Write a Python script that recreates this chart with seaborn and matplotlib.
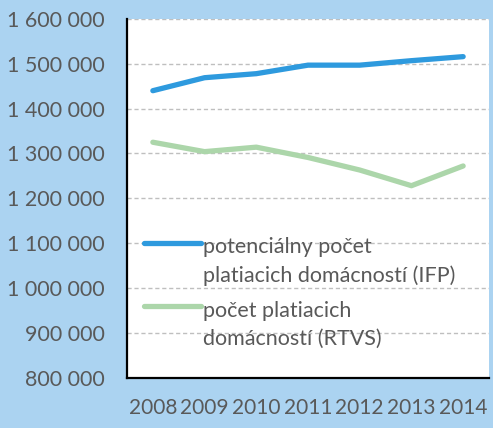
import pandas as pd
import numpy as np
import matplotlib
matplotlib.use('Agg')
import matplotlib.pyplot as plt
import seaborn as sns

# --- data ---
years = ['2008', '2009', '2010', '2011', '2012', '2013', '2014']
ifp = [1440000, 1469000, 1478000, 1497000, 1497000, 1507000, 1516000]
rtvs = [1325000, 1304000, 1314000, 1291000, 1263000, 1228000, 1272000]
label_ifp = 'potenciálny počet\nplatiacich domácností (IFP)'
label_rtvs = 'počet platiacich\ndomácností (RTVS)'
yticks = [800000, 900000, 1000000, 1100000, 1200000, 1300000, 1400000, 1500000, 1600000]

df = pd.DataFrame({
    'rok': years * 2,
    'pocet': ifp + rtvs,
    'seria': [label_ifp] * len(years) + [label_rtvs] * len(years),
})

BG = '#abd3f1'
TXT = '#595959'

sns.set_theme(style='white')
plt.rcParams['font.family'] = ['Lato', 'DejaVu Sans']

fig = plt.figure(figsize=(4.93, 4.28), dpi=100, facecolor=BG)
ax = fig.add_axes([127 / 493, 1 - 377.5 / 428, 362 / 493, 358.5 / 428])
ax.set_facecolor('white')

sns.lineplot(data=df, x='rok', y='pocet', hue='seria',
             palette={label_ifp: '#2e9ade', label_rtvs: '#acd6aa'},
             linewidth=3.8, ax=ax, legend=True, sort=False)
for ln in ax.get_lines():
    ln.set_solid_capstyle('round')

ax.set_xlim(-0.5, 6.5)
ax.set_ylim(800000, 1600000)
ax.set_yticks(yticks)
ax.set_yticklabels([f'{v:,}'.replace(',', ' ') for v in yticks])
ax.set_xlabel('')
ax.set_ylabel('')

ax.yaxis.grid(True, linestyle=(0, (3, 2)), color='#bfbfbf', linewidth=1.0)
ax.set_axisbelow(True)
ax.tick_params(axis='both', length=0, colors=TXT)
ax.tick_params(axis='y', pad=16, labelsize=15.5)
ax.tick_params(axis='x', pad=15, labelsize=15)

for side in ['top', 'right']:
    ax.spines[side].set_visible(False)
for side in ['left', 'bottom']:
    ax.spines[side].set_color('black')
    ax.spines[side].set_linewidth(1.6)

handles, labels = ax.get_legend_handles_labels()
leg = ax.legend(handles, labels, loc='upper left', bbox_to_anchor=(0.022, 0.415),
                frameon=False, fontsize=15.5, handlelength=2.65, handletextpad=0.1,
                labelspacing=0.7, borderaxespad=0)
for t in leg.get_texts():
    t.set_color(TXT)
    t.set_linespacing(1.5)
for ln in leg.get_lines():
    ln.set_linewidth(3.8)
    ln.set_solid_capstyle('round')
    ln.set_ydata(np.asarray(ln.get_ydata()) + 14)

fig.savefig('out.png', dpi=100, facecolor=BG)
